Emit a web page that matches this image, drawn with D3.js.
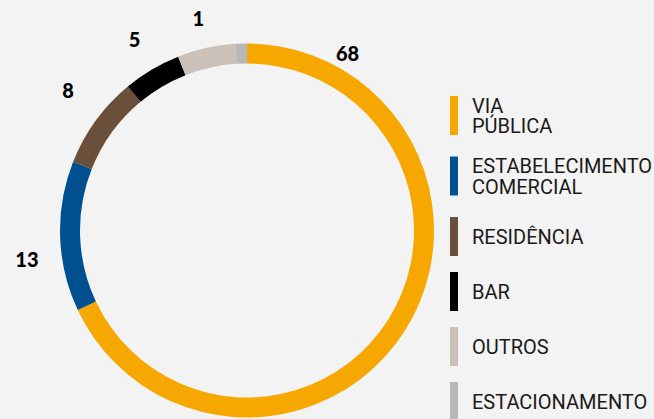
<!DOCTYPE html>
<html>
<head>
<meta charset="utf-8">
<script src="https://cdn.jsdelivr.net/npm/d3@7"></script>
<style>
  html, body { margin: 0; padding: 0; background: #f3f3f3; }
  .container__donut { width: 654px; height: 419px; overflow: hidden; }
  .donut-label { font-family: Lato, 'DejaVu Sans', sans-serif; font-weight: 900; font-size: 20px; fill: #000; }
  .legend-text { font-family: Roboto, 'Noto Sans', sans-serif; font-size: 20px; fill: #1a1a1a; }
</style>
</head>
<body>
<div class="container__donut"><svg></svg></div>
<script>
// data
const categories = ['VIA PÚBLICA', 'ESTABELECIMENTO COMERCIAL', 'RESIDÊNCIA', 'BAR', 'OUTROS', 'ESTACIONAMENTO']
const values = [68, 13, 8, 5, 5, 1]
const legendLines = [['VIA', 'PÚBLICA'], ['ESTABELECIMENTO', 'COMERCIAL'], ['RESIDÊNCIA'], ['BAR'], ['OUTROS'], ['ESTACIONAMENTO']]
const colors = ['#f6a800', '#00508f', '#6a4f3a', '#000000', '#cbc1b8', '#b7b7b7']

// label placement: angle shift from the arc centroid (deg) and radius
const labelShift = { 'VIA PÚBLICA': [-92.7, 203], 'ESTABELECIMENTO COMERCIAL': [-5.7, 222], 'RESIDÊNCIA': [2, 227], 'BAR': [0, 221], 'ESTACIONAMENTO': [-11.2, 217] }

// selections
const $svg = d3.select('.container__donut svg')

// dimensions
const width = 654
const height = 419
const cx = 247
const cy = 230.5
const outerR = 187
const innerR = 167

// legend constants
const legendX = 450
const legendTop = 96
const swatchW = 8
const swatchH = 39
const lineH = 20.5
const textPad = 22

const data = categories.map((c, i) => ({ name: c, value: values[i], color: colors[i], lines: legendLines[i] }))

function setup(){
  $svg.attr('width', width).attr('height', height)

  const pie = d3.pie().value(d => d.value).sort(null)
  const arc = d3.arc().innerRadius(innerR).outerRadius(outerR)
  const arcs = pie(data)

  const $g = $svg.append('g').attr('transform', `translate(${cx}, ${cy})`)

  $g.selectAll('path.slice')
    .data(arcs)
    .enter()
    .append('path')
    .attr('class', 'slice')
    .attr('d', arc)
    .attr('fill', d => d.data.color)

  // value labels
  $g.selectAll('text.donut-label')
    .data(arcs.filter(d => labelShift[d.data.name]))
    .enter()
    .append('text')
    .attr('class', 'donut-label')
    .attr('text-anchor', 'middle')
    .attr('dy', '0.36em')
    .attr('transform', d => {
      const s = labelShift[d.data.name]
      const a = (d.startAngle + d.endAngle) / 2 + s[0] * Math.PI / 180
      return `translate(${Math.sin(a) * s[1]}, ${-Math.cos(a) * s[1]})`
    })
    .text(d => d.data.value)

  // legend
  let y = legendTop
  const legend = $svg.append('g').attr('class', 'legend')
  data.forEach(d => {
    const item = legend.append('g').attr('transform', `translate(${legendX}, ${y})`)
    item.append('rect')
      .attr('width', swatchW)
      .attr('height', swatchH)
      .attr('fill', d.color)
    const n = d.lines.length
    const firstBase = swatchH / 2 - (n - 1) * lineH / 2 + 7.3
    const t = item.append('text').attr('class', 'legend-text')
    d.lines.forEach((l, i) => {
      t.append('tspan')
        .attr('x', textPad)
        .attr('y', firstBase + i * lineH)
        .text(l)
    })
    y += n > 1 ? 60.5 : 55
  })
}

setup()
</script>
</body>
</html>
